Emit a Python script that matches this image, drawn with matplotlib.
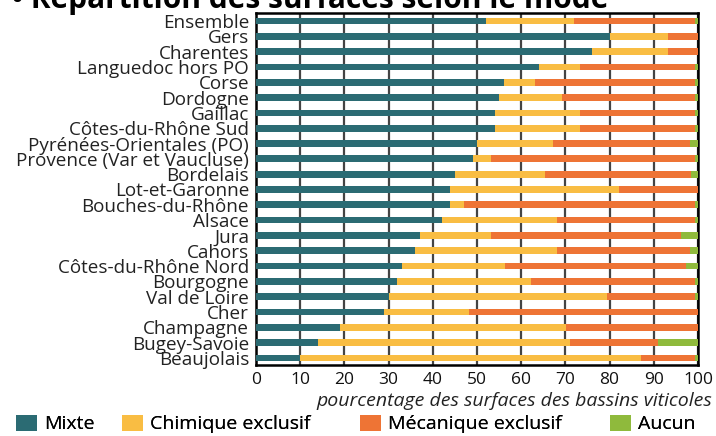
import matplotlib
matplotlib.use("Agg")
import matplotlib.pyplot as plt
from matplotlib.patches import Patch
import numpy as np

plt.rcParams['font.family'] = ['Open Sans', 'DejaVu Sans']

regions = ["Ensemble", "Gers", "Charentes", "Languedoc hors PO", "Corse", "Dordogne",
           "Gaillac", "Côtes-du-Rhône Sud", "Pyrénées-Orientales (PO)",
           "Provence (Var et Vaucluse)", "Bordelais", "Lot-et-Garonne",
           "Bouches-du-Rhône", "Alsace", "Jura", "Cahors", "Côtes-du-Rhône Nord",
           "Bourgogne", "Val de Loire", "Cher", "Champagne", "Bugey-Savoie", "Beaujolais"]

mixte = [52, 80, 76, 64, 56, 55, 54, 54, 50, 49, 45, 44, 44, 42, 37, 36, 33, 32, 30, 29, 19, 14, 10]
chimique = [20, 13.3, 17.3, 9.3, 7.2, 14.3, 19.3, 19.3, 17.2, 4.1, 20.3, 38.2, 3.1, 26.2, 16.1, 32.2, 23.4, 30.2, 49.5, 19.3, 51.2, 57.1, 77.2]
mecanique = [27.3, 6.7, 6.7, 26.0, 36.1, 30.1, 26.0, 26.0, 31.1, 46.2, 33.1, 17.8, 52.2, 31.1, 43.0, 30.1, 40.8, 37.2, 19.9, 51.7, 29.8, 19.9, 12.1]
aucun = [0.7, 0, 0, 0.7, 0.7, 0.7, 0.7, 0.7, 1.7, 0.7, 1.6, 0, 0.7, 0.7, 3.9, 1.7, 2.8, 0.6, 0.6, 0, 0, 9.0, 0.7]

series_names = ["Mixte", "Chimique exclusif", "Mécanique exclusif", "Aucun"]
colors = ["#2b6b73", "#f9bd43", "#ee7435", "#8fba3c"]
xticks = [0, 10, 20, 30, 40, 50, 60, 70, 80, 90, 100]

fig = plt.figure(figsize=(7.16, 4.36), dpi=100)
ax = fig.add_axes([256/716, 71/436, 442/716, 352/436])

y = np.arange(len(regions))
left = np.zeros(len(regions))
for vals, col, name in zip([mixte, chimique, mecanique, aucun], colors, series_names):
    v = np.array(vals, dtype=float)
    ax.barh(y, v, left=left, height=0.44, color=col, label=name, zorder=3)
    left += v

ax.set_xlim(0, 100)
ax.set_ylim(22.46, -0.52)
ax.set_yticks(y)
ax.set_yticklabels(regions, fontsize=13.6, color="#222222")
ax.set_xticks(xticks)
ax.set_xticklabels([str(t) for t in xticks], fontsize=12.5, color="#111111")
ax.tick_params(axis='x', length=0, pad=5)
ax.tick_params(axis='y', length=0, pad=5)
ax.xaxis.grid(True, color="#444444", linewidth=1.6, zorder=1)
ax.set_axisbelow(True)
for s in ax.spines.values():
    s.set_linewidth(1.8)
    s.set_color("black")

fig.text(712/716, 1 - 401/436, "pourcentage des surfaces des bassins viticoles",
         ha='right', va='center', fontsize=14, style='italic', color="#222222")

fig.text(12/716, 1 - 8/436, "• Répartition des surfaces selon le mode",
         ha='left', va='baseline', fontsize=21.5, fontweight='bold', color="black")

handles = [Patch(facecolor=c, edgecolor='none') for c in colors]
patch_x = [16, 122, 360, 610]
for h, name, px in zip(handles, series_names, patch_x):
    leg = fig.legend([h], [name], loc='center left',
                     bbox_to_anchor=(px/716, 1 - 424/436), frameon=False,
                     fontsize=14, handlelength=1.1, handleheight=0.9,
                     handletextpad=0.35, borderaxespad=0, borderpad=0)
    fig.add_artist(leg)

fig.savefig("out.png", dpi=100)
